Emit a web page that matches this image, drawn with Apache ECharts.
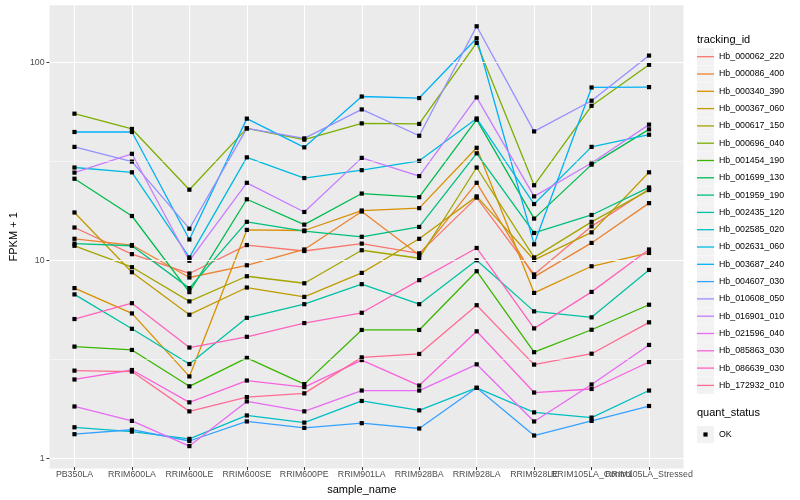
<!DOCTYPE html>
<html><head><meta charset="utf-8">
<script src="https://cdn.jsdelivr.net/npm/echarts@6/dist/echarts.min.js"></script>
<style>html,body{margin:0;padding:0;background:#fff}#c{width:800px;height:500px}</style>
</head><body><div id="c"></div>
<script>
// ---------- data ----------
const categories = ['PB350LA','RRIM600LA','RRIM600LE','RRIM600SE','RRIM600PE','RRIM901LA','RRIM928BA','RRIM928LA','RRIM928LE','RRIM105LA_Control','RRIM105LA_Stressed'];
const seriesNames = ['Hb_000062_220','Hb_000086_400','Hb_000340_390','Hb_000367_060','Hb_000617_150','Hb_000696_040','Hb_001454_190','Hb_001699_130','Hb_001959_190','Hb_002435_120','Hb_002585_020','Hb_002631_060','Hb_003687_240','Hb_004607_030','Hb_010608_050','Hb_016901_010','Hb_021596_040','Hb_085863_030','Hb_086639_030','Hb_172932_010'];
const colors = ['#F8766D','#EA8331','#D89000','#C09B00','#A3A500','#7CAE00','#39B600','#00BB4E','#00BF7D','#00C1A3','#00BFC4','#00BAE0','#00B0F6','#35A2FF','#9590FF','#C77CFF','#E76BF3','#FA62DB','#FF62BC','#FF6C91'];

const hb_000062_220 = [14.6, 10.7, 8.54, 11.9, 11.1, 12.1, 10.8, 20.7, 8.44, 14.8, 22.9];
const hb_000086_400 = [12.8, 11.9, 8.15, 9.40, 11.3, 17.6, 10.6, 24.6, 8.21, 12.2, 19.4];
const hb_000340_390 = [7.20, 5.36, 2.57, 14.2, 14.1, 17.8, 18.3, 37.0, 6.81, 9.29, 10.85];
const hb_000367_060 = [17.4, 8.67, 5.28, 7.25, 6.50, 8.60, 12.8, 21.0, 10.0, 13.8, 27.8];
const hb_000617_150 = [11.8, 9.19, 6.17, 8.27, 7.62, 11.2, 10.2, 29.4, 10.3, 15.6, 22.6];
const hb_000696_040 = [55.1, 46.1, 22.7, 46.4, 40.7, 49.2, 48.9, 125.8, 23.9, 60.4, 97.4];
const hb_001454_190 = [3.64, 3.50, 2.29, 3.19, 2.35, 4.42, 4.42, 8.77, 3.41, 4.43, 5.93];
const hb_001699_130 = [25.8, 16.7, 6.87, 20.3, 15.1, 21.7, 20.8, 51.4, 16.2, 30.4, 45.9];
const hb_001959_190 = [12.1, 11.8, 7.20, 15.6, 14.0, 13.1, 14.7, 34.7, 13.7, 16.9, 23.3];
const hb_002435_120 = [6.69, 4.48, 2.97, 5.09, 5.97, 7.54, 5.97, 9.97, 5.49, 5.12, 8.90];
const hb_002585_020 = [1.42, 1.35, 1.24, 1.63, 1.50, 1.93, 1.73, 2.25, 1.69, 1.59, 2.18];
const hb_002631_060 = [29.4, 27.8, 10.3, 33.1, 26.0, 28.5, 31.8, 52.1, 19.2, 37.4, 43.1];
const hb_003687_240 = [44.5, 44.5, 12.7, 52.0, 37.2, 67.3, 66.1, 132.8, 12.0, 74.8, 75.1];
const hb_004607_030 = [1.31, 1.38, 1.21, 1.52, 1.41, 1.49, 1.40, 2.25, 1.29, 1.53, 1.82];
const hb_010608_050 = [37.4, 31.5, 14.4, 46.4, 41.3, 57.9, 42.6, 152.7, 44.8, 64.1, 108.5];
const hb_016901_010 = [27.7, 34.5, 9.91, 24.6, 17.5, 32.9, 26.6, 66.6, 21.0, 31.0, 48.5];
const hb_021596_040 = [1.81, 1.53, 1.14, 1.92, 1.71, 2.18, 2.18, 2.96, 1.52, 2.34, 3.71];
const hb_085863_030 = [2.48, 2.77, 1.90, 2.45, 2.27, 3.11, 2.31, 4.35, 2.13, 2.22, 3.04];
const hb_086639_030 = [5.02, 6.04, 3.60, 4.08, 4.79, 5.40, 7.90, 11.5, 4.50, 6.89, 11.3];
const hb_172932_010 = [2.75, 2.72, 1.71, 2.02, 2.11, 3.21, 3.34, 5.90, 2.95, 3.35, 4.83];

const seriesValues = [hb_000062_220, hb_000086_400, hb_000340_390, hb_000367_060, hb_000617_150, hb_000696_040, hb_001454_190, hb_001699_130, hb_001959_190, hb_002435_120, hb_002585_020, hb_002631_060, hb_003687_240, hb_004607_030, hb_010608_050, hb_016901_010, hb_021596_040, hb_085863_030, hb_086639_030, hb_172932_010];

const yMajorTicks = [1, 10, 100];
const yMinorBreaks = [Math.sqrt(10), Math.sqrt(1000)];
const statusNames = ['OK'];

// ---------- scale (ggplot-like 5% expansion in log space) ----------
const allVals = seriesValues.flat();
const lo = Math.log10(Math.min(...allVals)), hi = Math.log10(Math.max(...allVals));
const pad = (hi - lo) * 0.05;
const yMin = Math.pow(10, lo - pad), yMax = Math.pow(10, hi + pad);

// ---------- layout ----------
const P = {left: 40, top: 5.3, width: 643.5, height: 463.1};
const step = P.width / (categories.length - 1 + 1.2);
const FONT = "'Liberation Sans', Arial, Helvetica, sans-serif";
const LEG = {x: 697, top: 48.2, size: 17, gap: 0.3};
const LEG2 = {top: 426};

const keyRects = [];
seriesNames.forEach((n, i) => keyRects.push({type: 'rect', z: 0,
  shape: {x: LEG.x, y: LEG.top + i * (LEG.size + LEG.gap), width: LEG.size, height: LEG.size},
  style: {fill: '#F2F2F2'}}));
keyRects.push({type: 'rect', z: 0, shape: {x: LEG.x, y: LEG2.top, width: LEG.size, height: LEG.size}, style: {fill: '#F2F2F2'}});

const gridLineData = [
  ...yMajorTicks.map(v => ({yAxis: v, lineStyle: {color: '#FFFFFF', width: 1.07, type: 'solid'}})),
  ...yMinorBreaks.map(v => ({yAxis: v, lineStyle: {color: '#FFFFFF', width: 0.53, type: 'solid'}}))
];

const lineSeries = seriesValues.map((vals, i) => ({
  type: 'line', name: seriesNames[i], xAxisIndex: 1, yAxisIndex: 1,
  data: vals, symbol: 'none', showSymbol: false, silent: true, z: 3,
  lineStyle: {width: 1.3, color: colors[i]}, itemStyle: {color: colors[i]}
}));

const pointData = [];
seriesValues.forEach(vals => vals.forEach((v, j) => pointData.push([j, v])));

const option = {
  animation: false,
  color: colors,
  textStyle: {fontFamily: FONT},
  title: [
    {text: 'tracking_id', left: LEG.x, top: 34, padding: 0, textStyle: {fontFamily: FONT, fontSize: 11, fontWeight: 'normal', color: '#000'}},
    {text: 'quant_status', left: LEG.x, top: 407.5, padding: 0, textStyle: {fontFamily: FONT, fontSize: 11, fontWeight: 'normal', color: '#000'}}
  ],
  grid: [
    {left: P.left, top: P.top, width: P.width, height: P.height, show: true, backgroundColor: '#EBEBEB', borderWidth: 0},
    {left: P.left + 0.6 * step, top: P.top, width: step * (categories.length - 1), height: P.height}
  ],
  xAxis: [
    {type: 'value', gridIndex: 0, show: false, min: 0, max: 1},
    {type: 'category', gridIndex: 1, data: categories, boundaryGap: false,
     axisLine: {show: false},
     axisTick: {show: true, length: 3, lineStyle: {color: '#333333', width: 1}},
     axisLabel: {interval: 0, color: '#4D4D4D', fontSize: 8.8, margin: 3, fontFamily: FONT},
     splitLine: {show: true, lineStyle: {color: '#FFFFFF', width: 1.07}},
     name: 'sample_name', nameLocation: 'middle', nameGap: 13.5,
     nameTextStyle: {color: '#000', fontSize: 11, fontFamily: FONT}}
  ],
  yAxis: [
    {type: 'log', gridIndex: 0, min: yMin, max: yMax,
     axisLine: {show: false},
     axisTick: {show: true, length: 3, lineStyle: {color: '#333333', width: 1}, customValues: yMajorTicks},
     axisLabel: {color: '#4D4D4D', fontSize: 8.8, margin: 5, fontFamily: FONT, customValues: yMajorTicks,
                 formatter: v => String(Math.round(v))},
     splitLine: {show: false}, minorTick: {show: false}, minorSplitLine: {show: false},
     name: 'FPKM + 1', nameLocation: 'middle', nameGap: 24,
     nameTextStyle: {color: '#000', fontSize: 11, fontFamily: FONT}},
    {type: 'log', gridIndex: 1, min: yMin, max: yMax, show: false, splitLine: {show: false}}
  ],
  legend: [
    {orient: 'vertical', left: LEG.x, top: LEG.top, itemWidth: LEG.size, itemHeight: LEG.size, itemGap: LEG.gap,
     padding: 0, selectedMode: false, icon: 'path://M0,0M0,7.85h17v1.3h-17zM17,17',
     data: seriesNames.map((n, i) => ({name: n, itemStyle: {color: colors[i]}})),
     textStyle: {fontSize: 8.8, color: '#000', fontFamily: FONT}},
    {orient: 'vertical', left: LEG.x, top: LEG2.top, itemWidth: LEG.size, itemHeight: LEG.size,
     padding: 0, selectedMode: false, icon: 'path://M0,0M6.4,6.4h4.2v4.2h-4.2zM17,17',
     data: statusNames.map(n => ({name: n, itemStyle: {color: '#000'}})),
     textStyle: {fontSize: 8.8, color: '#000', fontFamily: FONT}}
  ],
  graphic: {elements: keyRects},
  series: [
    {type: 'line', xAxisIndex: 0, yAxisIndex: 0, data: [], silent: true, z: 1,
     markLine: {symbol: 'none', silent: true, animation: false, label: {show: false}, data: gridLineData}},
    ...lineSeries,
    {type: 'scatter', name: statusNames[0], xAxisIndex: 1, yAxisIndex: 1, data: pointData, silent: true, z: 4,
     symbol: 'rect', symbolSize: 4.2, itemStyle: {color: '#000', opacity: 1}}
  ]
};
const chart = echarts.init(document.getElementById('c'), null, {renderer: 'canvas'});
chart.setOption(option);
</script></body></html>
